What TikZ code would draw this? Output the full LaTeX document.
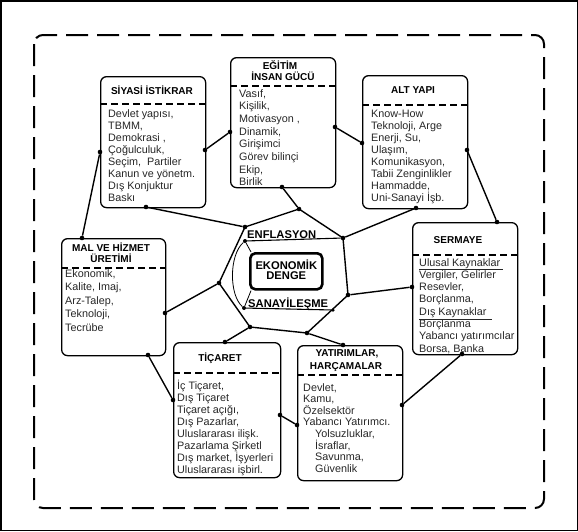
\documentclass[tikz,border=0pt]{standalone}
\usepackage{fontspec}
\setmainfont{Liberation Sans}
\begin{document}
\begin{tikzpicture}[x=1pt,y=-1pt,
  box/.style={draw, line width=1.3pt, rounded corners=6pt, inner sep=0pt, anchor=north west},
  sepline/.style={line width=1.3pt, dash pattern=on 7pt off 4pt},
  web/.style={line width=1.4pt},
  thinline/.style={line width=0.8pt},
  dot/.style={circle, fill=black, inner sep=0pt, minimum size=4.6pt},
  body/.style={font=\fontsize{10.8}{12}\selectfont, text=black!85, inner sep=0pt, anchor=base west},
  ttl/.style={font=\fontsize{10}{11}\selectfont\bfseries, inner sep=0pt, anchor=base},
  ctr/.style={font=\fontsize{11.2}{12}\selectfont\bfseries, inner sep=0pt},
]
\useasboundingbox (0,0) rectangle (578,531);
\draw[line width=1.5pt] (0.75,0.75) rectangle (577.25,530.25);
\draw[line width=2pt, dash pattern=on 22pt off 9pt, rounded corners=9pt] (34,35) rectangle (544,508);

% boxes
\node[box, minimum width=105, minimum height=131] (siyasi) at (100,76) {};
\node[box, minimum width=105, minimum height=130] (egitim) at (230,57) {};
\node[box, minimum width=105, minimum height=133] (altyapi) at (362,75) {};
\node[box, minimum width=104, minimum height=117] (mal) at (61,238) {};
\node[box, minimum width=105, minimum height=132] (sermaye) at (412,222) {};
\node[box, minimum width=107, minimum height=135] (ticaret) at (173,342) {};
\node[box, minimum width=105, minimum height=135] (yatirim) at (297,345) {};
\node[box, line width=2.6pt, rounded corners=5pt, minimum width=72, minimum height=36] (denge) at (249,252) {};

% separators
\draw[sepline] (100,104) -- (205,104);
\draw[sepline] (230,86) -- (335,86);
\draw[sepline] (362,105) -- (467,105);
\draw[sepline] (61,268) -- (165,268);
\draw[sepline] (412,255) -- (517,255);
\draw[sepline] (173,373) -- (280,373);
\draw[sepline] (297,375) -- (402,375);

% titles
\node[ttl] (siyT) at (152,94.5) {SİYASİ İSTİKRAR};
\node[ttl] (egiT1) at (280,69.5) {EĞİTİM};
\node[ttl] (egiT2) at (283,80.5) {İNSAN GÜCÜ};
\node[ttl] (altT) at (413,93.5) {ALT YAPI};
\node[ttl] (malT1) at (111,251.5) {MAL VE HİZMET};
\node[ttl] (malT2) at (111,262.5) {ÜRETİMİ};
\node[ttl] (serT) at (458,243.5) {SERMAYE};
\node[ttl] (ticT) at (220,361.5) {TİÇARET};
\node[ttl] (yatT1) at (347,356.5) {YATIRIMLAR,};
\node[ttl] (yatT2) at (346,369.5) {HARÇAMALAR};

% body texts
\foreach \txt [count=\i] in {{Devlet yapısı,},{TBMM,},{Demokrasi ,},{Çoğulculuk,},{Seçim,\ \ Partiler},{Kanun ve yönetm.},{Dış Konjuktur},{Baskı}}
  \node[body] (siy\i) at (108,{117+(\i-1)*12.1}) {\txt};
\foreach \txt [count=\i] in {{Vasıf,},{Kişilik,},{Motivasyon ,},{Dinamik,},{Girişimci},{Görev bilinçi},{Ekip,},{Birlik}}
  \node[body] (egi\i) at (239,{97+(\i-1)*12.7}) {\txt};
\foreach \txt [count=\i] in {{Know-How},{Teknoloji, Arge},{Enerji, Su,},{Ulaşım,},{Komunikasyon,},{Tabii Zenginlikler},{Hammadde,},{Uni-Sanayi İşb.}}
  \node[body] (alt\i) at (371,{117+(\i-1)*12.1}) {\txt};
\foreach \txt [count=\i] in {{Ekonomik,},{Kalite, Imaj,},{Arz-Talep,},{Teknoloji,},{Tecrübe}}
  \node[body] (mal\i) at (65,{277+(\i-1)*13.5}) {\txt};
\foreach \txt [count=\i] in {{\underline{Ulusal Kaynaklar\ }},{Vergiler, Gelirler},{Resevler,},{Borçlanma,},{\underline{Dış Kaynaklar\ \ }},{Borçlanma},{Yabancı yatırımcılar},{Borsa, Banka}}
  \node[body] (ser\i) at (419,{266+(\i-1)*12.3}) {\txt};
\foreach \txt [count=\i] in {{İç Tiçaret,},{Dış Tiçaret},{Tiçaret açığı,},{Dış Pazarlar,},{Uluslararası ilişk.},{Pazarlama Şirketl},{Dış market, İşyerleri},{Uluslararası işbirl.}}
  \node[body] (tic\i) at (177,{389+(\i-1)*12.1}) {\txt};
\foreach \txt [count=\i] in {{Devlet,},{Kamu,},{Özelsektör},{Yabancı Yatırımcı.}}
  \node[body] (yat\i) at (303,{391+(\i-1)*11.6}) {\txt};
\foreach \txt [count=\i] in {{Yolsuzluklar,},{İsraflar,},{Savunma,},{Güvenlik}}
  \node[body] (yatb\i) at (315,{437.4+(\i-1)*11.6}) {\txt};

% center texts
\node[ctr] (dengeT) at (denge.center) {\begin{tabular}{@{}c@{}}EKONOMİK\\[-2pt]DENGE\end{tabular}};
\node[ctr, anchor=base west] (enf) at (247,238) {ENFLASYON};
\node[ctr, anchor=base west] (san) at (248,307.5) {SANAYİLEŞME};

% heptagon dots
\node[dot] (h1) at (245,227) {};
\node[dot] (h2) at (299,209) {};
\node[dot] (h3) at (343,238) {};
\node[dot] (h4) at (348,295) {};
\node[dot] (h5) at (307,333) {};
\node[dot] (h6) at (250,327) {};
\node[dot] (h7) at (219,283) {};
% box attachment dots
\node[dot] (a1) at (146,207) {};
\node[dot] (a2) at (282,187) {};
\node[dot] (a3) at (416,208) {};
\node[dot] (a4) at (412,287) {};
\node[dot] (a5) at (343,345) {};
\node[dot] (a6) at (225,342) {};
\node[dot] (a7) at (165,313) {};
% ring dots
\node[dot] (r1) at (100,152) {};
\node[dot] (r2) at (82,238) {};
\node[dot] (r3) at (205,150) {};
\node[dot] (r4) at (230,132) {};
\node[dot] (r5) at (335,127) {};
\node[dot] (r6) at (362,143) {};
\node[dot] (r7) at (467,150) {};
\node[dot] (r8) at (497,222) {};
\node[dot] (r9) at (462,354) {};
\node[dot] (r10) at (402,405) {};
\node[dot] (r11) at (297,425) {};
\node[dot] (r12) at (280,415) {};
\node[dot] (r13) at (173,400) {};
\node[dot] (r14) at (148,355) {};
% inner dots
\node[dot, minimum size=4pt] (e1) at (245,241) {};
\node[dot, minimum size=4pt] (e2) at (244,308) {};
\node[dot, minimum size=3.5pt] (e3) at (333,310) {};

% web
\draw[web] (h1.center) -- (h2.center) -- (h3.center) -- (h4.center) -- (h5.center) -- (h6.center) -- (h7.center) -- cycle;
\draw[web] (h1) -- (a1);
\draw[web] (h2) -- (a2);
\draw[web] (h3) -- (a3);
\draw[web] (h4) -- (a4);
\draw[web] (h5) -- (a5);
\draw[web] (h6) -- (a6);
\draw[web] (h7) -- (a7);
\draw[web] (r1) -- (r2);
\draw[web] (r3) -- (r4);
\draw[web] (r5) -- (r6);
\draw[web] (r7) -- (r8);
\draw[web] (r9) -- (r10);
\draw[web] (r11) -- (r12);
\draw[web] (r13) -- (r14);

% inner underlines and loop
\draw[web, line width=1.1pt] (e1) -- (h3);
\draw[web, line width=1.1pt] (e2) -- (e3);
\draw[thinline] (e1) .. controls (229,255) and (229,295) .. (e2);
\draw[thinline] (e1) -- ([xshift=2pt]denge.north west);
\draw[thinline] ([xshift=2pt]denge.south west) -- (e2);
\end{tikzpicture}
\end{document}
